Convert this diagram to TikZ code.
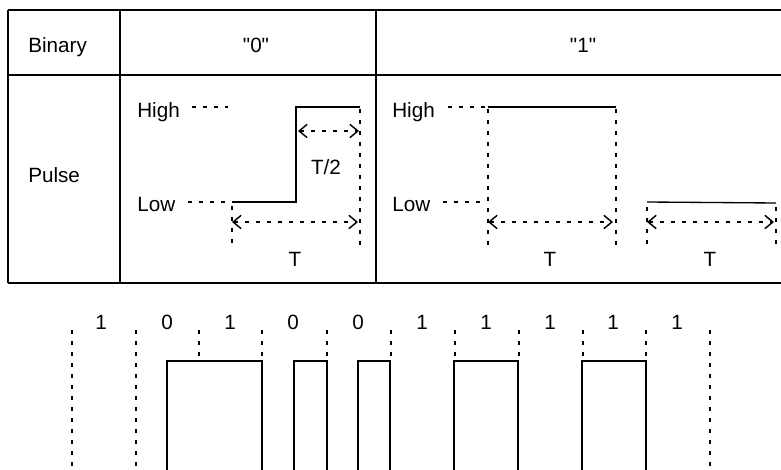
\documentclass[tikz,border=0pt]{standalone}
\usepackage{fontspec}
\setmainfont{Liberation Sans}[Ligatures=TeXOff]
\usetikzlibrary{arrows.meta}
\begin{document}
\begin{tikzpicture}[x=0.75pt,y=-0.75pt,
  grid/.style={line width=1.2pt},
  sig/.style={line width=1pt},
  dots/.style={line width=1.3pt,dash pattern=on 3pt off 5.25pt},
  dimarrow/.style={line width=1.1pt,dash pattern=on 3pt off 5.25pt,
     {Straight Barb[length=6pt,width=10pt,line width=1.1pt]}-{Straight Barb[length=6pt,width=10pt,line width=1.1pt]}},
  lbl/.style={inner sep=0pt,font=\fontsize{15.5}{18}\selectfont},
  every node/.style={lbl}]
\useasboundingbox (0,0) rectangle (781,470);
% table
\draw[grid] (8,10) -- (790,10);
\draw[grid] (8,75) -- (790,75);
\draw[grid] (8,283) -- (790,283);
\draw[grid] (8,10) -- (8,283);
\draw[grid] (120,10) -- (120,283);
\draw[grid] (376,10) -- (376,283);
\draw[grid] (790,10) -- (790,283);
% header texts
\node[anchor=base west] (binary) at (28,53) {Binary};
\node[anchor=base] (h0) at (256,53) {"0"};
\node[anchor=base] (h1) at (583,53) {"1"};
\node[anchor=base west] (pulse) at (28,183) {Pulse};
% zero cell
\node[anchor=base west] (high0) at (137,118) {High};
\node[anchor=base west] (low0) at (137,212) {Low};
\draw[dots] (192,107) -- (228,107);
\draw[dots] (188,202) -- (230,202);
\draw[sig] (232,202) -- (296,202) -- (296,107) -- (360,107);
\draw[dots] (360,109) -- (360,250);
\draw[dots] (232,206) -- (232,246);
\draw[dimarrow] (298,131) -- (359,131);
\draw[dimarrow] (232,222) -- (358,222);
\node[anchor=base] (thalf) at (326,175) {T/2};
\node[anchor=base] (t0) at (295,267) {T};
% one cell
\node[anchor=base west] (high1) at (392,118) {High};
\node[anchor=base west] (low1) at (392,212) {Low};
\draw[dots] (448,107) -- (486,107);
\draw[dots] (443,202) -- (480,202);
\draw[sig] (488,107) -- (616,107);
\draw[dots] (488,109) -- (488,250);
\draw[dots] (616,109) -- (616,250);
\draw[dimarrow] (488,222) -- (613,222);
\node[anchor=base] (t1) at (550,267) {T};
\draw[sig] (647,202) -- (776,203);
\draw[dots] (647,207) -- (647,245);
\draw[dots] (776,207) -- (776,245);
\draw[dimarrow] (647,222) -- (774,222);
\node[anchor=base] (t2) at (710,267) {T};
% bottom waveform
\foreach \x/\b in {101/1,167/0,230/1,293/0,358/0,422/1,486/1,550/1,613/1,677/1}
  \node[anchor=base] at (\x,329) {\b};
\foreach \x in {72,136,710}
  \draw[dots] (\x,330) -- (\x,475);
\foreach \x in {199,262,327,391,455,519,583,646}
  \draw[dots] (\x,330) -- (\x,359);
\draw[sig] (167,475) -- (167,361) -- (262,361) -- (262,475);
\draw[sig] (294,475) -- (294,361) -- (327,361) -- (327,475);
\draw[sig] (358,475) -- (358,361) -- (390,361) -- (390,475);
\draw[sig] (454,475) -- (454,361) -- (518,361) -- (518,475);
\draw[sig] (582,475) -- (582,361) -- (646,361) -- (646,475);
\end{tikzpicture}
\end{document}
